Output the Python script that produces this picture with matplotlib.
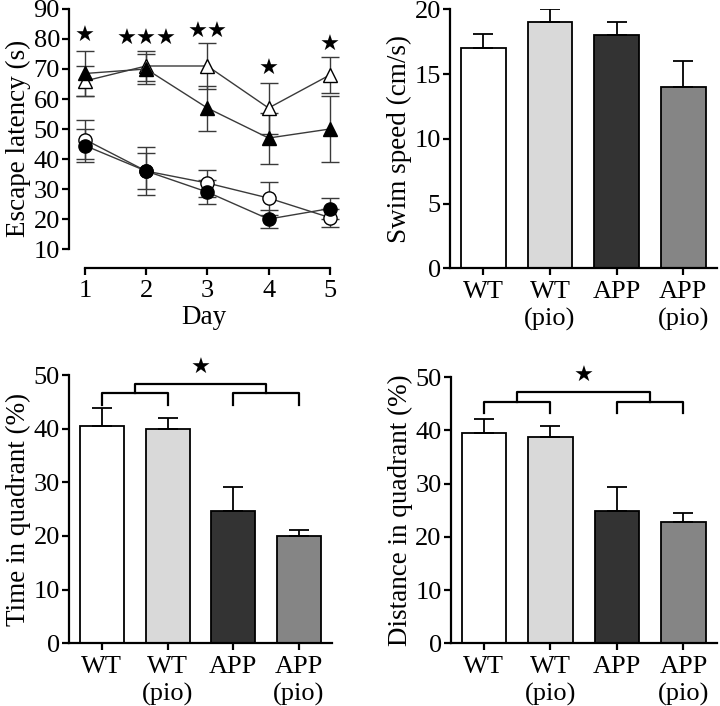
import matplotlib
matplotlib.use('Agg')
import matplotlib.pyplot as plt
import numpy as np

# フォント
plt.rcParams['font.family'] = ['Liberation Serif', 'DejaVu Sans']
plt.rcParams['font.size'] = 19

# 逃避潜時（Day 1-5）
days = [1, 2, 3, 4, 5]
wt_latency = [46.5, 36, 32, 27, 20.5]
wt_latency_err = [6.5, 8, 4.5, 5.5, 3]
wt_pio_latency = [44.5, 36, 29, 20, 23.5]
wt_pio_latency_err = [5.5, 6, 4, 3, 3.5]
app_latency = [66, 71, 71, 57, 68]
app_latency_err = [5, 5, 7.5, 8.5, 6]
app_pio_latency = [68.5, 70, 57, 47, 50]
app_pio_latency_err = [7.5, 5, 7.5, 8.5, 11]

# 有意差の星
star_counts = [1, 3, 2, 1, 1]
star_levels = [81, 80, 82.5, 70, 78]

# 棒グラフ
groups = ['WT', 'WT\n(pio)', 'APP', 'APP\n(pio)']
bar_colors = ['white', '#d9d9d9', '#333333', '#858585']
swim_speed = [17, 19, 18, 14]
swim_speed_err = [1.1, 1.0, 1.0, 2.0]
time_quadrant = [40.5, 40, 24.7, 20]
time_quadrant_err = [3.3, 2, 4.5, 1.2]
distance_quadrant = [39.5, 38.8, 24.8, 22.8]
distance_quadrant_err = [2.7, 2, 4.5, 1.6]

fig = plt.figure(figsize=(7.2, 7.06), dpi=100)


def style_axes(ax):
    for side in ['top', 'right']:
        ax.spines[side].set_visible(False)
    for side in ['left', 'bottom']:
        ax.spines[side].set_linewidth(1.6)
    ax.tick_params(direction='out', width=1.6, length=5, labelsize=19, pad=1.5)
    ax.tick_params(axis='x', pad=4)


def draw_bars(ax, values, errors, ylabel, ymax, ystep):
    x = np.arange(len(values))
    ax.bar(x, values, width=0.67, color=bar_colors, edgecolor='black', linewidth=1.3)
    ax.errorbar(x, values, yerr=[np.zeros(len(values)), errors], fmt='none',
                ecolor='black', elinewidth=1.3, capsize=7.5, capthick=1.3)
    ax.set_xlim(-0.5, 3.5)
    ax.set_ylim(0, ymax)
    ax.set_yticks(np.arange(0, ymax + 1, ystep))
    ax.set_xticks(x)
    ax.set_xticklabels(groups, linespacing=1.3)
    ax.set_ylabel(ylabel, fontsize=19.5, labelpad=2)
    style_axes(ax)


def draw_bracket(ax, low, leg, top, star):
    # 下側の括弧
    for a, b in [(0, 1), (2, 3)]:
        ax.plot([a, a, b, b], [leg, low, low, leg], color='black', lw=1.6, clip_on=False)
    # 上側の括弧
    ax.plot([0.5, 0.5, 2.5, 2.5], [low, top, top, low], color='black', lw=1.6, clip_on=False)
    ax.text(1.5, star, '★', ha='center', va='center', fontsize=16,
            family='DejaVu Sans', clip_on=False)


# 逃避潜時の折れ線グラフ
ax1 = fig.add_axes([0.0958, 0.6204, 0.375, 0.3669])
line_kw = dict(color='#3a3a3a', lw=1.0, ecolor='#3a3a3a', elinewidth=1.0,
               capsize=6.5, capthick=1.0, markersize=9.5, markeredgewidth=1.0)
ax1.errorbar(days, wt_latency, yerr=wt_latency_err, marker='o',
             markerfacecolor='white', markeredgecolor='black', **line_kw)
ax1.errorbar(days, wt_pio_latency, yerr=wt_pio_latency_err, marker='o',
             markerfacecolor='black', markeredgecolor='black', **line_kw)
ax1.errorbar(days, app_latency, yerr=app_latency_err, marker='^',
             markerfacecolor='white', markeredgecolor='black', **line_kw)
ax1.errorbar(days, app_pio_latency, yerr=app_pio_latency_err, marker='^',
             markerfacecolor='black', markeredgecolor='black', **line_kw)
for d, n, lv in zip(days, star_counts, star_levels):
    ax1.text(d, lv, '★' * n, ha='center', va='center', fontsize=16,
             family='DejaVu Sans')
ax1.set_xlim(0.74, 5.15)
ax1.set_ylim(3.7, 90)
ax1.set_yticks(np.arange(10, 91, 10))
ax1.set_xticks(days)
ax1.spines['left'].set_bounds(10, 90)
ax1.spines['bottom'].set_bounds(1, 5)
ax1.set_xlabel('Day', fontsize=19.5, labelpad=2)
ax1.set_ylabel('Escape latency (s)', fontsize=19.5, labelpad=2)
style_axes(ax1)

# 遊泳速度
ax2 = fig.add_axes([0.625, 0.620, 0.3704, 0.3668])
draw_bars(ax2, swim_speed, swim_speed_err, 'Swim speed (cm/s)', 20, 5)

# 標的四分円の滞在時間
ax3 = fig.add_axes([0.0958, 0.0888, 0.365, 0.380])
draw_bars(ax3, time_quadrant, time_quadrant_err, 'Time in quadrant (%)', 50, 10)
draw_bracket(ax3, 46.6, 44.5, 48.4, 51.4)

# 標的四分円の移動距離
ax4 = fig.add_axes([0.626, 0.0888, 0.3694, 0.3768])
draw_bars(ax4, distance_quadrant, distance_quadrant_err, 'Distance in quadrant (%)', 50, 10)
draw_bracket(ax4, 45.4, 43.3, 47.2, 50.3)

fig.savefig('out.png', dpi=100)
